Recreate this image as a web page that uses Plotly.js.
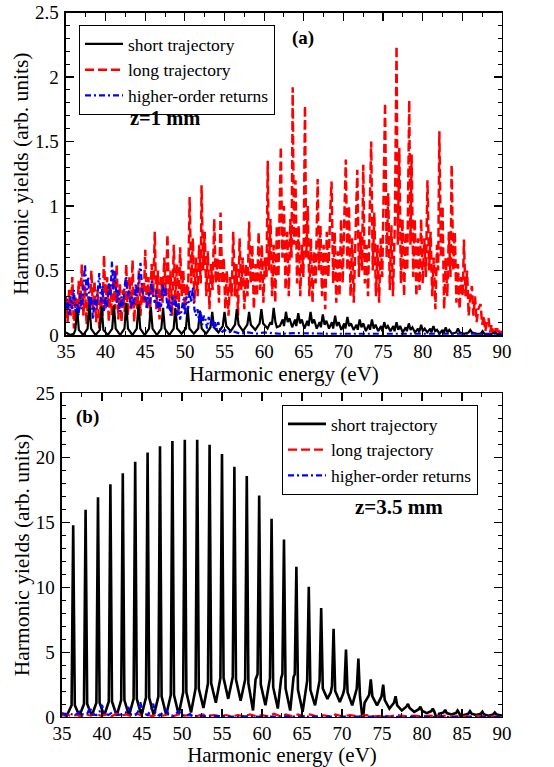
<!DOCTYPE html>
<html>
<head>
<meta charset="utf-8">
<script src="https://cdn.plot.ly/plotly-3.0.1.min.js"></script>
<style>html,body{margin:0;padding:0;background:#fff;}#chart{width:554px;height:767px;}</style>
</head>
<body>
<div id="chart"></div>
<script>
// ---------- Panel (a) z = 1 mm : [energy eV, yield] ----------
const shortA = [
[35.0,0.02],[35.5,0.0],[36.0,0.01],
[36.18,0.04],[36.40,0.21],[36.62,0.04],[37.18,0.0],
[37.73,0.05],[37.95,0.25],[38.17,0.05],[38.73,0.0],
[39.28,0.04],[39.50,0.22],[39.72,0.04],[40.28,0.0],
[40.83,0.05],[41.05,0.23],[41.27,0.05],[41.83,0.0],
[42.38,0.05],[42.60,0.25],[42.82,0.05],[43.38,0.0],
[43.93,0.05],[44.15,0.24],[44.37,0.05],[44.93,0.0],
[45.48,0.05],[45.70,0.22],[45.92,0.05],[46.48,0.0],
[47.03,0.05],[47.25,0.21],[47.47,0.05],[48.03,0.0],
[48.58,0.05],[48.80,0.21],[49.02,0.05],[49.58,0.01],
[50.13,0.05],[50.35,0.21],[50.57,0.05],[51.13,0.01],
[51.68,0.05],[51.90,0.19],[52.12,0.05],[52.68,0.01],
[53.23,0.06],[53.45,0.18],[53.67,0.06],[54.23,0.02],
[54.78,0.07],[55.00,0.18],[55.22,0.07],[55.78,0.03],
[56.33,0.08],[56.55,0.20],[56.77,0.08],[57.33,0.03],
[57.88,0.08],[58.10,0.18],[58.32,0.08],[58.88,0.04],
[59.43,0.09],[59.65,0.20],[59.87,0.09],[60.43,0.05],
[60.80,0.10],[60.98,0.08],[61.20,0.21],[61.42,0.10],[61.60,0.06],[61.98,0.07],
[62.35,0.12],[62.50,0.07],[62.75,0.18],[62.97,0.10],[63.20,0.13],[63.53,0.06],
[63.90,0.12],[64.05,0.07],[64.30,0.17],[64.52,0.09],[64.75,0.12],[65.08,0.05],
[65.45,0.11],[65.60,0.07],[65.85,0.18],[66.07,0.09],[66.30,0.12],[66.63,0.05],
[67.00,0.10],[67.15,0.06],[67.40,0.16],[67.62,0.08],[67.85,0.11],[68.18,0.05],
[68.55,0.10],[68.70,0.05],[68.95,0.15],[69.17,0.07],[69.40,0.10],[69.73,0.04],
[70.10,0.09],[70.25,0.05],[70.50,0.14],[70.72,0.07],[70.95,0.09],[71.28,0.04],
[71.65,0.08],[71.80,0.04],[72.05,0.12],[72.27,0.06],[72.50,0.09],[72.83,0.03],
[73.20,0.08],[73.35,0.04],[73.60,0.12],[73.82,0.05],[74.05,0.08],[74.38,0.03],
[74.75,0.07],[74.90,0.03],[75.15,0.10],[75.37,0.05],[75.60,0.07],[75.93,0.03],
[76.30,0.07],[76.45,0.03],[76.70,0.10],[76.92,0.04],[77.15,0.07],[77.48,0.02],
[77.85,0.06],[78.00,0.03],[78.25,0.09],[78.47,0.04],[78.70,0.06],[79.03,0.02],
[79.40,0.05],[79.55,0.02],[79.80,0.08],[80.02,0.03],[80.25,0.05],[80.58,0.02],
[80.95,0.05],[81.10,0.02],[81.35,0.07],[81.57,0.03],[81.80,0.04],[82.13,0.01],
[82.50,0.04],[82.65,0.01],[82.90,0.06],[83.12,0.02],[83.35,0.04],[83.68,0.01],
[84.23,0.02],[84.45,0.05],[84.67,0.02],[85.23,0.01],
[85.78,0.02],[86.00,0.04],[86.22,0.02],[86.78,0.01],
[87.33,0.01],[87.55,0.03],[87.77,0.01],[88.33,0.0],
[88.88,0.01],[89.10,0.02],[89.32,0.01],[90.0,0.0]
];
const longA = [
[35.0,0.30],[35.2,0.10],[35.4,0.35],[35.6,0.15],[35.8,0.45],[36.0,0.05],[36.2,0.30],[36.4,0.10],
[36.6,0.42],[36.8,0.20],[37.0,0.55],[37.2,0.15],[37.4,0.38],[37.6,0.08],[37.8,0.30],[38.0,0.12],
[38.2,0.50],[38.4,0.20],[38.6,0.42],[38.8,0.10],[39.0,0.35],[39.2,0.05],[39.4,0.28],[39.6,0.15],
[39.8,0.62],[40.0,0.20],[40.2,0.45],[40.4,0.10],[40.6,0.38],[40.8,0.15],[41.0,0.50],[41.2,0.20],
[41.4,0.55],[41.6,0.12],[41.8,0.40],[42.0,0.10],[42.2,0.35],[42.4,0.18],[42.6,0.55],[42.8,0.15],
[43.0,0.45],[43.2,0.20],[43.4,0.58],[43.6,0.10],[43.8,0.35],[44.0,0.20],[44.2,0.50],[44.4,0.15],
[44.6,0.40],[44.8,0.25],[45.0,0.66],[45.2,0.20],[45.4,0.45],[45.6,0.15],[45.8,0.55],[46.0,0.30],
[46.2,0.80],[46.4,0.20],[46.6,0.50],[46.8,0.12],[47.0,0.45],[47.2,0.25],[47.4,0.60],[47.6,0.30],
[47.8,0.78],[48.0,0.20],[48.2,0.50],[48.4,0.15],[48.6,0.70],[48.8,0.25],[49.0,0.55],[49.2,0.15],
[49.4,0.68],[49.6,0.30],[49.8,0.50],[50.0,0.20],[50.2,0.40],[50.4,0.30],[50.6,1.07],[50.8,0.40],
[51.0,0.75],[51.2,0.25],[51.4,0.60],[51.6,0.30],[51.8,0.70],[52.0,0.40],[52.1,1.16],[52.3,0.50],
[52.5,0.80],[52.7,0.30],[52.9,0.65],[53.1,0.20],[53.3,0.55],[53.5,0.35],[53.7,0.90],[53.9,0.40],
[54.1,0.60],[54.3,0.25],[54.5,0.95],[54.7,0.40],[54.9,0.60],[55.1,0.20],[55.3,0.50],[55.5,0.15],
[55.7,0.45],[55.9,0.30],[56.1,0.80],[56.3,0.30],[56.5,0.55],[56.7,0.15],[56.9,0.75],[57.1,0.35],
[57.3,0.60],[57.5,0.20],[57.7,0.55],[57.9,0.30],[58.1,0.88],[58.3,0.40],[58.5,0.70],[58.7,0.20],
[58.9,0.55],[59.1,0.30],[59.3,0.80],[59.5,0.35],[59.7,0.70],[59.9,0.25],[60.1,0.60],[60.3,0.45],
[60.45,1.35],[60.6,0.50],[60.8,0.90],[61.0,0.30],[61.2,0.70],[61.4,0.25],[61.6,0.85],[61.8,0.45],
[62.1,1.46],[62.3,0.60],[62.5,1.00],[62.7,0.35],[62.9,0.80],[63.1,0.30],[63.3,0.90],[63.45,0.60],
[63.6,1.92],[63.75,0.70],[63.95,1.20],[64.15,0.40],[64.35,0.85],[64.55,0.30],[64.75,0.70],[64.95,0.45],
[65.15,1.78],[65.3,0.60],[65.5,1.00],[65.7,0.30],[65.9,0.75],[66.1,0.25],[66.3,0.65],[66.5,0.40],
[66.75,1.21],[66.9,0.50],[67.1,0.85],[67.3,0.30],[67.5,0.70],[67.7,0.20],[67.9,0.80],[68.1,0.45],
[68.3,0.90],[68.5,1.19],[68.7,0.40],[68.9,0.80],[69.1,0.25],[69.3,0.65],[69.5,0.30],[69.7,0.90],
[69.9,0.40],[70.1,0.80],[70.3,1.36],[70.5,0.50],[70.7,1.00],[70.9,0.30],[71.1,0.75],[71.3,0.25],
[71.55,0.90],[71.75,1.28],[71.95,0.45],[72.15,0.80],[72.35,0.50],[72.5,1.32],[72.7,0.40],[72.9,0.70],
[73.1,0.30],[73.3,0.90],[73.5,1.50],[73.7,0.50],[73.9,0.95],[74.1,0.30],[74.3,0.70],[74.5,0.25],
[74.7,0.75],[74.9,0.45],[75.05,1.00],[75.25,1.80],[75.45,0.60],[75.65,1.10],[75.85,0.35],[76.05,0.85],
[76.25,0.30],[76.5,0.90],[76.7,2.24],[76.85,0.70],[77.05,1.45],[77.25,0.40],[77.45,0.90],[77.65,0.30],
[77.85,0.80],[78.05,0.50],[78.3,1.82],[78.45,0.70],[78.6,1.40],[78.8,0.45],[79.0,0.90],[79.2,0.30],
[79.4,0.75],[79.6,0.35],[79.8,0.90],[80.0,0.40],[80.2,0.75],[80.4,0.45],[80.6,1.20],[80.8,0.50],
[81.0,0.80],[81.2,0.30],[81.4,0.60],[81.6,0.20],[81.8,0.70],[81.95,0.50],[82.1,1.58],[82.3,0.60],
[82.5,1.00],[82.7,0.20],[82.9,0.60],[83.1,0.30],[83.3,0.80],[83.5,0.45],[83.65,1.32],[83.85,0.50],
[84.05,0.80],[84.25,0.25],[84.45,0.55],[84.65,0.20],[84.85,0.45],[85.05,0.30],[85.2,0.74],[85.4,0.30],
[85.6,0.50],[85.8,0.15],[86.0,0.30],[86.2,0.38],[86.4,0.15],[86.6,0.30],[86.8,0.10],[87.0,0.20],
[87.3,0.24],[87.5,0.08],[87.7,0.15],[87.9,0.03],[88.1,0.10],[88.3,0.13],[88.5,0.02],[88.7,0.08],
[88.9,0.01],[89.1,0.06],[89.3,0.02],[89.5,0.06],[89.7,0.01],[90.0,0.03]
];
const higherA = [
[35.0,0.20],[35.2,0.28],[35.4,0.15],[35.6,0.30],[35.8,0.20],[36.0,0.35],[36.2,0.18],[36.4,0.25],
[36.6,0.15],[36.8,0.33],[37.0,0.20],[37.2,0.40],[37.4,0.55],[37.6,0.30],[37.8,0.45],[38.0,0.20],
[38.2,0.30],[38.4,0.12],[38.6,0.28],[38.8,0.20],[39.0,0.35],[39.2,0.48],[39.4,0.25],[39.6,0.38],
[39.8,0.18],[40.0,0.30],[40.2,0.22],[40.4,0.40],[40.6,0.30],[40.8,0.57],[41.0,0.35],[41.2,0.50],
[41.4,0.25],[41.6,0.35],[41.8,0.18],[42.0,0.30],[42.2,0.22],[42.4,0.38],[42.6,0.45],[42.8,0.30],
[43.0,0.35],[43.2,0.20],[43.4,0.30],[43.6,0.24],[43.8,0.40],[44.0,0.30],[44.2,0.45],[44.4,0.56],
[44.6,0.35],[44.8,0.28],[45.0,0.30],[45.2,0.20],[45.4,0.33],[45.6,0.24],[45.8,0.42],[46.0,0.30],
[46.2,0.25],[46.4,0.35],[46.6,0.18],[46.8,0.28],[47.0,0.22],[47.2,0.40],[47.4,0.30],[47.6,0.36],
[47.8,0.20],[48.0,0.28],[48.2,0.15],[48.4,0.30],[48.6,0.22],[48.8,0.30],[49.0,0.15],[49.2,0.25],
[49.4,0.12],[49.6,0.22],[49.8,0.28],[50.0,0.15],[50.2,0.30],[50.4,0.20],[50.6,0.35],[50.8,0.25],
[51.0,0.37],[51.2,0.20],[51.4,0.15],[51.6,0.20],[51.8,0.10],[52.0,0.18],[52.2,0.08],[52.4,0.15],
[52.6,0.12],[52.8,0.05],[53.0,0.14],[53.2,0.09],[53.4,0.12],[53.6,0.05],[53.8,0.10],[54.0,0.04],
[54.2,0.10],[54.4,0.06],[54.6,0.02],[55.0,0.04],[55.5,0.02],[56.0,0.03],[57.0,0.01],[58.0,0.02],
[59.0,0.01],[60.0,0.02],[62.0,0.01],[64.0,0.015],[66.0,0.01],[68.0,0.01],[70.0,0.01],[72.0,0.01],
[75.0,0.01],[78.0,0.01],[81.0,0.01],[84.0,0.01],[87.0,0.01],[90.0,0.01]
];

// ---------- Panel (b) z = 3.5 mm : [energy eV, yield] ----------
const shortB = [
[35.0,0.2],[35.6,0.1],
[36.20,0.9],[36.40,14.8],[36.60,0.9],[37.18,0.1],
[37.75,1.0],[37.95,16.0],[38.15,1.0],[38.73,0.1],
[39.30,1.1],[39.50,16.95],[39.70,1.1],[40.28,0.1],
[40.85,1.2],[41.05,17.95],[41.25,1.2],[41.83,0.1],
[42.40,1.3],[42.60,18.8],[42.80,1.3],[43.38,0.1],
[43.95,1.4],[44.15,19.7],[44.35,1.4],[44.93,0.1],
[45.50,1.5],[45.70,20.4],[45.90,1.5],[46.48,0.1],
[47.05,1.6],[47.25,20.9],[47.45,1.6],[48.03,0.15],
[48.60,1.7],[48.80,21.3],[49.00,1.7],[49.58,0.2],
[50.15,1.9],[50.35,21.4],[50.55,1.9],[51.13,0.35],
[51.70,2.2],[51.90,21.4],[52.10,2.2],[52.68,0.7],
[53.25,2.6],[53.45,21.0],[53.65,2.6],[54.23,1.1],
[54.80,3.0],[55.00,20.3],[55.20,3.0],[55.78,1.4],
[56.35,3.1],[56.55,19.3],[56.75,2.9],[57.33,1.25],
[57.90,2.9],[58.10,18.6],[58.30,2.6],[58.88,0.5],[59.2,2.9],
[59.45,3.3],[59.65,17.1],[59.85,2.5],[60.43,0.9],
[60.85,2.4],[61.00,3.0],[61.20,15.3],[61.40,2.3],[61.98,0.65],
[62.40,3.0],[62.55,3.3],[62.75,13.7],[62.95,2.2],[63.53,0.5],
[63.95,3.1],[64.10,3.3],[64.30,11.6],[64.50,2.1],[65.08,0.4],
[65.50,2.4],[65.65,2.8],[65.85,10.05],[66.05,2.1],[66.63,0.9],
[67.05,2.3],[67.20,2.8],[67.40,8.4],[67.60,2.2],[68.18,1.4],
[68.60,1.9],[68.75,2.4],[68.95,6.8],[69.15,2.0],[69.73,1.15],
[70.15,1.8],[70.30,2.2],[70.50,5.2],[70.70,1.9],[71.28,0.9],
[71.85,2.2],[72.05,4.5],[72.25,1.6],[72.60,-0.3],[72.83,1.1],
[73.40,1.7],[73.60,2.9],[73.80,1.6],[74.38,0.9],
[74.95,1.6],[75.15,2.5],[75.35,1.3],[75.93,0.65],
[76.50,1.1],[76.70,1.6],[76.90,0.9],[77.48,0.5],
[78.05,0.8],[78.25,1.0],[78.45,0.7],[79.03,0.4],
[79.60,0.6],[79.80,0.8],[80.00,0.5],[80.58,0.3],
[81.15,0.45],[81.35,0.65],[81.55,0.4],[81.90,-0.25],[82.13,0.25],
[82.70,0.35],[82.90,0.55],[83.10,0.3],[83.68,0.2],
[84.25,0.3],[84.45,0.5],[84.65,0.3],[85.00,-0.2],[85.23,0.15],
[85.80,0.25],[86.00,0.45],[86.20,0.25],[86.78,0.15],
[87.35,0.25],[87.55,0.4],[87.75,0.2],[88.33,0.1],
[88.90,0.2],[89.10,0.35],[89.30,0.2],[90.0,0.1]
];
const longB = [
[35.0,0.1],[35.5,0.25],[36.0,0.1],[36.8,0.15],[37.4,0.05],[38.0,0.2],[38.6,0.1],[39.2,0.3],
[39.8,0.1],[40.5,0.2],[41.2,0.05],[41.8,0.25],[42.4,0.1],[43.0,0.2],[43.7,0.05],[44.3,0.25],
[45.0,0.1],[45.6,0.2],[46.3,0.05],[47.0,0.25],[47.6,0.1],[48.2,0.2],[48.9,0.05],[49.5,0.2],
[50.2,0.1],[51.0,0.15],[51.8,0.05],[52.5,0.2],[53.2,0.1],[54.0,0.15],[54.8,0.05],[55.5,0.15],
[56.3,0.05],[57.0,0.15],[57.8,0.05],[58.5,0.2],[59.3,0.05],[60.0,0.15],[60.8,0.05],[61.5,0.25],
[62.3,0.05],[63.0,0.2],[63.8,0.05],[64.5,0.2],[65.3,0.05],[66.0,0.2],[66.8,0.05],[67.5,0.15],
[68.5,0.05],[69.2,0.2],[70.0,0.05],[71.0,0.15],[72.0,0.05],[73.0,0.15],[74.0,0.05],[75.0,0.1],
[76.0,0.05],[77.0,0.15],[78.0,0.05],[79.0,0.1],[80.0,0.05],[81.0,0.1],[82.0,0.05],[83.0,0.1],
[84.0,0.03],[85.0,0.08],[86.0,0.03],[87.0,0.08],[88.0,0.03],[89.0,0.05],[90.0,0.03]
];
const higherB = [
[35.0,0.3],[35.5,0.2],[36.0,0.25],[36.6,0.15],[37.0,0.3],[37.3,0.45],[37.6,0.2],[38.2,0.3],
[38.5,0.75],[38.8,0.2],[39.3,0.15],[39.7,0.4],[40.0,0.93],[40.3,0.3],[40.8,0.15],[41.2,0.3],
[41.6,0.5],[41.9,0.15],[42.5,0.2],[43.0,0.35],[43.3,0.77],[43.6,0.2],[44.2,0.15],[44.5,0.4],
[44.8,1.13],[45.1,0.3],[45.7,0.15],[46.1,0.5],[46.4,1.03],[46.7,0.25],[47.2,0.1],[47.7,0.4],
[48.0,0.7],[48.3,0.2],[48.9,0.1],[49.3,0.3],[49.6,0.44],[49.9,0.15],[50.5,0.1],[51.0,0.23],
[51.3,0.05],[52.0,0.1],[53.0,0.05],[54.0,0.08],[56.0,0.03],[58.0,0.05],[60.0,0.02],[63.0,0.04],
[66.0,0.02],[70.0,0.03],[75.0,0.02],[80.0,0.03],[85.0,0.02],[90.0,0.02]
];

// ---------- Text ----------
const seriesNames = ['short trajectory', 'long trajectory', 'higher-order returns'];
const xTitle = 'Harmonic energy (eV)';
const yTitle = 'Harmonic yields (arb. units)';

const FONT = 'Times New Roman, Liberation Serif, serif';
const COL = {short: '#000000', long: '#ff0000', higher: '#0000ff'};
const DASH = {short: 'solid', long: '9px,4px', higher: '6px,3px,2px,3px'};

function xy(p) { return {x: p.map(d => d[0]), y: p.map(d => d[1])}; }

function tr(pairs, key, idx, ax, leg, width) {
  const d = xy(pairs);
  return {
    type: 'scatter', mode: 'lines', x: d.x, y: d.y,
    name: seriesNames[idx], legendrank: idx + 1, legend: leg,
    xaxis: ax[0], yaxis: ax[1],
    line: {color: COL[key], width: width, dash: DASH[key]},
    hoverinfo: 'skip'
  };
}

const data = [
  tr(longA, 'long', 1, ['x', 'y'], 'legend', 2.5),
  tr(shortA, 'short', 0, ['x', 'y'], 'legend', 2.2),
  tr(higherA, 'higher', 2, ['x', 'y'], 'legend', 2.2),
  tr(shortB, 'short', 0, ['x2', 'y2'], 'legend2', 2.6),
  tr(longB, 'long', 1, ['x2', 'y2'], 'legend2', 2.2),
  tr(higherB, 'higher', 2, ['x2', 'y2'], 'legend2', 2.2)
];

const axisCommon = {
  showline: true, linecolor: 'black', linewidth: 1.5, mirror: 'allticks',
  ticks: 'inside', ticklen: 8, tickwidth: 1.2, tickcolor: 'black',
  showgrid: false, zeroline: false,
  tickfont: {family: FONT, size: 19, color: 'black'}
};
function xAx(domain, anchor) {
  return Object.assign({}, axisCommon, {
    domain: domain, range: [35, 90], tick0: 35, dtick: 5, anchor: anchor,
    ticklabelstandoff: -1,
    minor: {tick0: 35, dtick: 2.5, ticks: 'inside', ticklen: 4, tickcolor: 'black', tickwidth: 1, showgrid: false},
    title: {text: xTitle, font: {family: FONT, size: 21, color: 'black'}, standoff: 4}
  });
}
function yAx(domain, anchor, range, dtick, mdtick) {
  return Object.assign({}, axisCommon, {
    domain: domain, range: range, tick0: 0, dtick: dtick, anchor: anchor,
    ticklabelstandoff: 2,
    minor: {tick0: 0, dtick: mdtick, ticks: 'inside', ticklen: 4, tickcolor: 'black', tickwidth: 1, showgrid: false},
    title: {text: yTitle, font: {family: FONT, size: 21.5, color: 'black'}, standoff: 0}
  });
}
const legendCommon = {
  xanchor: 'left', yanchor: 'top', bgcolor: 'white', bordercolor: 'black', borderwidth: 1,
  font: {family: FONT, size: 17.5, color: 'black'}, tracegroupgap: 0, itemwidth: 38
};

const layout = {
  width: 554, height: 767,
  margin: {l: 0, r: 0, t: 0, b: 0},
  paper_bgcolor: 'white', plot_bgcolor: 'white',
  showlegend: true,
  font: {family: FONT, color: 'black'},
  xaxis: xAx([0.1191, 0.9061], 'y'),
  yaxis: yAx([0.5632, 0.9837], 'x', [0, 2.5], 0.5, 0.1),
  xaxis2: xAx([0.1119, 0.9061], 'y2'),
  yaxis2: yAx([0.0652, 0.4876], 'x2', [0, 25], 5, 1),
  legend: Object.assign({}, legendCommon, {x: 0.1426, y: 0.9674}),
  legend2: Object.assign({}, legendCommon, {x: 0.509, y: 0.472}),
  annotations: [
    {text: '<b>(a)</b>', x: 0.547, y: 0.9505, xref: 'paper', yref: 'paper', showarrow: false, xanchor: 'center', yanchor: 'middle', font: {family: FONT, size: 19, color: 'black'}},
    {text: '<b>z=1 mm</b>', x: 0.2978, y: 0.8462, xref: 'paper', yref: 'paper', showarrow: false, xanchor: 'center', yanchor: 'middle', font: {family: FONT, size: 20.5, color: 'black'}},
    {text: '<b>(b)</b>', x: 0.1588, y: 0.4563, xref: 'paper', yref: 'paper', showarrow: false, xanchor: 'center', yanchor: 'middle', font: {family: FONT, size: 19, color: 'black'}},
    {text: '<b>z=3.5 mm</b>', x: 0.7202, y: 0.3394, xref: 'paper', yref: 'paper', showarrow: false, xanchor: 'center', yanchor: 'middle', font: {family: FONT, size: 21, color: 'black'}}
  ]
};

Plotly.newPlot('chart', data, layout, {staticPlot: true, displayModeBar: false});
</script>
</body>
</html>
